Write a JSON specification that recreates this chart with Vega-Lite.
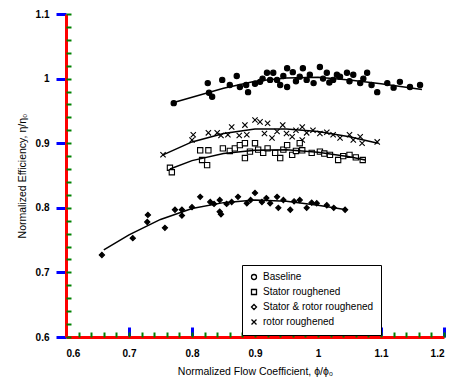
{
  "$schema": "https://vega.github.io/schema/vega-lite/v6.json",
  "width": 378,
  "height": 323,
  "autosize": {"type": "none"},
  "padding": {"left": 66, "top": 14, "right": 6, "bottom": 47},
  "background": "white",
  "config": {
    "view": {"stroke": null},
    "font": "Liberation Sans",
    "axis": {"grid": false, "labelColor": "black", "titleColor": "black", "labelFont": "Liberation Sans", "titleFont": "Liberation Sans", "zindex": 1}
  },
  "datasets": {
    "pts": [
      {"s":"Baseline","x":0.771,"y":0.962},{"s":"Baseline","x":0.825,"y":0.993},{"s":"Baseline","x":0.827,"y":0.978},{"s":"Baseline","x":0.832,"y":0.972},{"s":"Baseline","x":0.848,"y":0.998},{"s":"Baseline","x":0.86,"y":0.99},{"s":"Baseline","x":0.871,"y":1.004},{"s":"Baseline","x":0.876,"y":0.987},{"s":"Baseline","x":0.889,"y":0.979},{"s":"Baseline","x":0.886,"y":0.99},{"s":"Baseline","x":0.9,"y":0.992},{"s":"Baseline","x":0.908,"y":0.995},{"s":"Baseline","x":0.912,"y":1.0},{"s":"Baseline","x":0.919,"y":1.009},{"s":"Baseline","x":0.924,"y":0.998},{"s":"Baseline","x":0.929,"y":1.009},{"s":"Baseline","x":0.935,"y":0.998},{"s":"Baseline","x":0.94,"y":0.99},{"s":"Baseline","x":0.945,"y":1.004},{"s":"Baseline","x":0.951,"y":1.016},{"s":"Baseline","x":0.951,"y":0.987},{"s":"Baseline","x":0.96,"y":1.01},{"s":"Baseline","x":0.965,"y":0.996},{"s":"Baseline","x":0.971,"y":1.003},{"s":"Baseline","x":0.976,"y":1.016},{"s":"Baseline","x":0.982,"y":0.998},{"s":"Baseline","x":0.987,"y":1.006},{"s":"Baseline","x":0.993,"y":0.993},{"s":"Baseline","x":1.003,"y":1.018},{"s":"Baseline","x":1.008,"y":1.0},{"s":"Baseline","x":1.014,"y":1.009},{"s":"Baseline","x":1.018,"y":0.994},{"s":"Baseline","x":1.024,"y":0.998},{"s":"Baseline","x":1.03,"y":1.006},{"s":"Baseline","x":1.035,"y":1.003},{"s":"Baseline","x":1.046,"y":1.009},{"s":"Baseline","x":1.05,"y":0.996},{"s":"Baseline","x":1.056,"y":1.006},{"s":"Baseline","x":1.067,"y":0.993},{"s":"Baseline","x":1.072,"y":1.0},{"s":"Baseline","x":1.078,"y":1.009},{"s":"Baseline","x":1.085,"y":0.99},{"s":"Baseline","x":1.094,"y":0.979},{"s":"Baseline","x":1.11,"y":0.993},{"s":"Baseline","x":1.12,"y":0.986},{"s":"Baseline","x":1.13,"y":0.995},{"s":"Baseline","x":1.146,"y":0.987},{"s":"Baseline","x":1.162,"y":0.99},
      {"s":"rotor roughened","x":0.754,"y":0.882},{"s":"rotor roughened","x":0.8,"y":0.905},{"s":"rotor roughened","x":0.802,"y":0.913},{"s":"rotor roughened","x":0.826,"y":0.916},{"s":"rotor roughened","x":0.84,"y":0.916},{"s":"rotor roughened","x":0.846,"y":0.912},{"s":"rotor roughened","x":0.857,"y":0.913},{"s":"rotor roughened","x":0.863,"y":0.925},{"s":"rotor roughened","x":0.875,"y":0.912},{"s":"rotor roughened","x":0.884,"y":0.928},{"s":"rotor roughened","x":0.887,"y":0.913},{"s":"rotor roughened","x":0.9,"y":0.936},{"s":"rotor roughened","x":0.908,"y":0.933},{"s":"rotor roughened","x":0.915,"y":0.915},{"s":"rotor roughened","x":0.92,"y":0.931},{"s":"rotor roughened","x":0.927,"y":0.908},{"s":"rotor roughened","x":0.935,"y":0.918},{"s":"rotor roughened","x":0.944,"y":0.928},{"s":"rotor roughened","x":0.95,"y":0.915},{"s":"rotor roughened","x":0.959,"y":0.91},{"s":"rotor roughened","x":0.965,"y":0.92},{"s":"rotor roughened","x":0.975,"y":0.925},{"s":"rotor roughened","x":0.975,"y":0.905},{"s":"rotor roughened","x":0.982,"y":0.916},{"s":"rotor roughened","x":0.992,"y":0.92},{"s":"rotor roughened","x":1.003,"y":0.915},{"s":"rotor roughened","x":1.014,"y":0.917},{"s":"rotor roughened","x":1.024,"y":0.913},{"s":"rotor roughened","x":1.035,"y":0.908},{"s":"rotor roughened","x":1.05,"y":0.913},{"s":"rotor roughened","x":1.056,"y":0.905},{"s":"rotor roughened","x":1.067,"y":0.91},{"s":"rotor roughened","x":1.07,"y":0.9},{"s":"rotor roughened","x":1.094,"y":0.902},
      {"s":"Stator roughened","x":0.765,"y":0.862},{"s":"Stator roughened","x":0.768,"y":0.855},{"s":"Stator roughened","x":0.813,"y":0.889},{"s":"Stator roughened","x":0.826,"y":0.889},{"s":"Stator roughened","x":0.816,"y":0.874},{"s":"Stator roughened","x":0.824,"y":0.866},{"s":"Stator roughened","x":0.849,"y":0.892},{"s":"Stator roughened","x":0.86,"y":0.888},{"s":"Stator roughened","x":0.868,"y":0.892},{"s":"Stator roughened","x":0.876,"y":0.897},{"s":"Stator roughened","x":0.884,"y":0.9},{"s":"Stator roughened","x":0.884,"y":0.877},{"s":"Stator roughened","x":0.892,"y":0.887},{"s":"Stator roughened","x":0.9,"y":0.9},{"s":"Stator roughened","x":0.905,"y":0.89},{"s":"Stator roughened","x":0.913,"y":0.885},{"s":"Stator roughened","x":0.92,"y":0.892},{"s":"Stator roughened","x":0.932,"y":0.885},{"s":"Stator roughened","x":0.94,"y":0.877},{"s":"Stator roughened","x":0.945,"y":0.89},{"s":"Stator roughened","x":0.951,"y":0.897},{"s":"Stator roughened","x":0.959,"y":0.882},{"s":"Stator roughened","x":0.965,"y":0.888},{"s":"Stator roughened","x":0.971,"y":0.9},{"s":"Stator roughened","x":0.975,"y":0.889},{"s":"Stator roughened","x":0.99,"y":0.885},{"s":"Stator roughened","x":1.003,"y":0.887},{"s":"Stator roughened","x":1.01,"y":0.884},{"s":"Stator roughened","x":1.019,"y":0.882},{"s":"Stator roughened","x":1.032,"y":0.874},{"s":"Stator roughened","x":1.04,"y":0.88},{"s":"Stator roughened","x":1.05,"y":0.882},{"s":"Stator roughened","x":1.06,"y":0.878},{"s":"Stator roughened","x":1.071,"y":0.874},
      {"s":"Stator & rotor roughened","x":0.657,"y":0.727},{"s":"Stator & rotor roughened","x":0.706,"y":0.753},{"s":"Stator & rotor roughened","x":0.73,"y":0.789},{"s":"Stator & rotor roughened","x":0.729,"y":0.778},{"s":"Stator & rotor roughened","x":0.757,"y":0.769},{"s":"Stator & rotor roughened","x":0.773,"y":0.797},{"s":"Stator & rotor roughened","x":0.784,"y":0.797},{"s":"Stator & rotor roughened","x":0.784,"y":0.788},{"s":"Stator & rotor roughened","x":0.8,"y":0.801},{"s":"Stator & rotor roughened","x":0.813,"y":0.817},{"s":"Stator & rotor roughened","x":0.829,"y":0.809},{"s":"Stator & rotor roughened","x":0.835,"y":0.806},{"s":"Stator & rotor roughened","x":0.844,"y":0.812},{"s":"Stator & rotor roughened","x":0.844,"y":0.794},{"s":"Stator & rotor roughened","x":0.846,"y":0.79},{"s":"Stator & rotor roughened","x":0.855,"y":0.806},{"s":"Stator & rotor roughened","x":0.863,"y":0.809},{"s":"Stator & rotor roughened","x":0.873,"y":0.817},{"s":"Stator & rotor roughened","x":0.887,"y":0.807},{"s":"Stator & rotor roughened","x":0.893,"y":0.812},{"s":"Stator & rotor roughened","x":0.9,"y":0.823},{"s":"Stator & rotor roughened","x":0.911,"y":0.809},{"s":"Stator & rotor roughened","x":0.918,"y":0.815},{"s":"Stator & rotor roughened","x":0.924,"y":0.807},{"s":"Stator & rotor roughened","x":0.935,"y":0.817},{"s":"Stator & rotor roughened","x":0.937,"y":0.8},{"s":"Stator & rotor roughened","x":0.945,"y":0.812},{"s":"Stator & rotor roughened","x":0.956,"y":0.797},{"s":"Stator & rotor roughened","x":0.962,"y":0.81},{"s":"Stator & rotor roughened","x":0.971,"y":0.812},{"s":"Stator & rotor roughened","x":0.982,"y":0.8},{"s":"Stator & rotor roughened","x":0.99,"y":0.808},{"s":"Stator & rotor roughened","x":0.998,"y":0.807},{"s":"Stator & rotor roughened","x":1.014,"y":0.804},{"s":"Stator & rotor roughened","x":1.025,"y":0.8},{"s":"Stator & rotor roughened","x":1.043,"y":0.797}
    ],
    "fits": [
      {"s":"Baseline","x":0.771,"y":0.963},{"s":"Baseline","x":0.85,"y":0.985},{"s":"Baseline","x":0.9,"y":0.996},{"s":"Baseline","x":0.95,"y":1.001},{"s":"Baseline","x":1.0,"y":1.002},{"s":"Baseline","x":1.05,"y":0.998},{"s":"Baseline","x":1.1,"y":0.992},{"s":"Baseline","x":1.165,"y":0.983},
      {"s":"rotor roughened","x":0.754,"y":0.882},{"s":"rotor roughened","x":0.8,"y":0.902},{"s":"rotor roughened","x":0.85,"y":0.915},{"s":"rotor roughened","x":0.9,"y":0.922},{"s":"rotor roughened","x":0.95,"y":0.922},{"s":"rotor roughened","x":1.0,"y":0.918},{"s":"rotor roughened","x":1.05,"y":0.91},{"s":"rotor roughened","x":1.095,"y":0.9},
      {"s":"Stator roughened","x":0.765,"y":0.86},{"s":"Stator roughened","x":0.8,"y":0.873},{"s":"Stator roughened","x":0.85,"y":0.884},{"s":"Stator roughened","x":0.9,"y":0.889},{"s":"Stator roughened","x":0.95,"y":0.89},{"s":"Stator roughened","x":1.0,"y":0.886},{"s":"Stator roughened","x":1.05,"y":0.879},{"s":"Stator roughened","x":1.075,"y":0.874},
      {"s":"Stator & rotor roughened","x":0.66,"y":0.735},{"s":"Stator & rotor roughened","x":0.7,"y":0.758},{"s":"Stator & rotor roughened","x":0.75,"y":0.782},{"s":"Stator & rotor roughened","x":0.8,"y":0.799},{"s":"Stator & rotor roughened","x":0.85,"y":0.808},{"s":"Stator & rotor roughened","x":0.9,"y":0.812},{"s":"Stator & rotor roughened","x":0.95,"y":0.81},{"s":"Stator & rotor roughened","x":1.0,"y":0.804},{"s":"Stator & rotor roughened","x":1.045,"y":0.797}
    ]
  },
  "layer": [
    {
      "data": {"name": "pts"},
      "mark": {"type": "point", "filled": true, "stroke": "black", "strokeWidth": 1.1, "opacity": 1, "size": 28},
      "encoding": {
        "x": {"field": "x", "type": "quantitative", "scale": {"domain": [0.6, 1.2], "nice": false, "zero": false},
          "axis": {"orient": "bottom", "values": [0.6,0.7,0.8,0.9,1.0,1.1,1.2], "format": "~g", "domainColor": "red", "domainWidth": 3, "tickColor": "blue", "tickSize": -10, "tickWidth": 3, "labelPadding": 21, "labelFontSize": 10, "labelFontWeight": "bold", "title": "Normalized Flow Coefficient,      \u03d5/\u03d5\u2080", "titleFontSize": 10.5, "titleFontWeight": "normal", "titlePadding": 8}},
        "y": {"field": "y", "type": "quantitative", "scale": {"domain": [0.6, 1.1], "nice": false, "zero": false},
          "axis": {"orient": "left", "values": [0.6,0.7,0.8,0.9,1.0,1.1], "format": "~g", "domainColor": "red", "domainWidth": 3, "tickColor": "blue", "tickSize": 10, "tickWidth": 3, "labelPadding": 7, "labelFontSize": 10, "labelFontWeight": "bold", "title": "Normalized Efficiency, \u03b7/\u03b7\u2080", "titleFontSize": 10.5, "titleFontWeight": "normal", "titlePadding": 8}},
        "shape": {"field": "s", "type": "nominal",
          "scale": {"domain": ["Baseline", "Stator roughened", "Stator & rotor roughened", "rotor roughened"], "range": ["circle", "square", "diamond", "M-1,-1L1,1M-1,1L1,-1"]},
          "legend": {"title": null, "orient": "none", "legendX": 176, "legendY": 251, "strokeColor": "black", "padding": 7, "fillColor": "white", "symbolSize": 25, "symbolStrokeWidth": 1.3, "labelFont": "Liberation Sans", "labelFontSize": 10, "labelColor": "black", "rowPadding": 3}},
        "fill": {"condition": {"test": "datum.s === 'Baseline' || datum.s === 'Stator & rotor roughened'", "value": "black"}, "value": "white"}
      }
    },
    {
      "data": {"name": "fits"},
      "mark": {"type": "line", "stroke": "black", "strokeWidth": 1.5},
      "encoding": {
        "x": {"field": "x", "type": "quantitative", "scale": {"domain": [0.6, 1.2], "nice": false, "zero": false},
          "axis": {"orient": "bottom", "values": [0.6,0.62,0.64,0.66,0.68,0.7,0.72,0.74,0.76,0.78,0.8,0.82,0.84,0.86,0.88,0.9,0.92,0.94,0.96,0.98,1.0,1.02,1.04,1.06,1.08,1.1,1.12,1.14,1.16,1.18,1.2], "labels": false, "domain": false, "tickColor": "green", "tickSize": -5, "tickWidth": 2, "title": null}},
        "y": {"field": "y", "type": "quantitative", "scale": {"domain": [0.6, 1.1], "nice": false, "zero": false},
          "axis": {"orient": "left", "values": [0.6,0.62,0.64,0.66,0.68,0.7,0.72,0.74,0.76,0.78,0.8,0.82,0.84,0.86,0.88,0.9,0.92,0.94,0.96,0.98,1.0,1.02,1.04,1.06,1.08,1.1], "labels": false, "domain": false, "tickColor": "green", "tickSize": -5, "tickWidth": 2, "title": null}},
        "detail": {"field": "s", "type": "nominal"}
      }
    }
  ],
  "resolve": {"axis": {"x": "independent", "y": "independent"}}
}
